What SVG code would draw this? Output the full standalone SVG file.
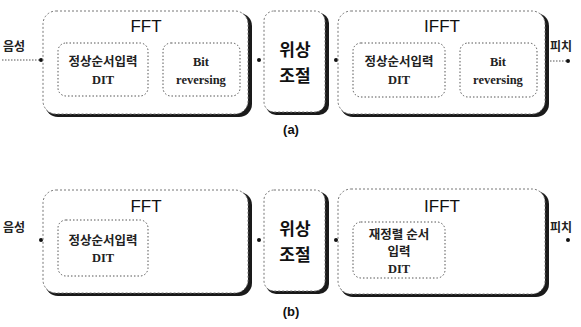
<svg xmlns="http://www.w3.org/2000/svg" width="581" height="327" viewBox="0 0 581 327">
<style>
.shadow{fill:#1a1a1a;}
.outer{fill:#fff;stroke:#777;stroke-width:1;stroke-dasharray:2,2;}
.inner{fill:none;stroke:#555;stroke-width:1;stroke-dasharray:1.5,2;}
.title{font-family:"Liberation Sans",Arial,sans-serif;font-size:17px;fill:#111;text-anchor:middle;}
.phase{font-family:"Noto Sans CJK KR","Noto Sans",sans-serif;font-size:17px;font-weight:bold;fill:#111;text-anchor:middle;}
.lbl{font-family:"Liberation Serif","Noto Sans CJK KR",serif;font-size:12.5px;font-weight:bold;fill:#222;text-anchor:middle;}
.side{font-family:"Noto Sans CJK KR",sans-serif;font-size:12px;font-weight:bold;fill:#222;}
.cap{font-family:"Liberation Sans",Arial,sans-serif;font-size:13px;font-weight:bold;fill:#111;text-anchor:middle;}
.conn{stroke:#555;stroke-width:1;stroke-dasharray:1.5,1.5;fill:none;}
.dot{fill:#111;}
</style>

<g id="connectors">
<line class="conn" x1="2" y1="60" x2="40" y2="60"/>
<circle class="dot" cx="41" cy="60" r="2"/>
<circle class="dot" cx="259" cy="60" r="2"/>
<circle class="dot" cx="336" cy="60" r="2"/>
<line class="conn" x1="550" y1="61" x2="567" y2="61"/>
<circle class="dot" cx="568" cy="61" r="2"/>
<circle class="dot" cx="41" cy="240" r="2"/>
<circle class="dot" cx="259" cy="240" r="2"/>
<circle class="dot" cx="336" cy="240" r="2"/>
<circle class="dot" cx="568" cy="240" r="2"/>
</g>

<g id="label-in-a"><text class="side" x="3" y="51">음성</text></g>
<g id="label-out-a"><text class="side" x="550" y="51">피치</text></g>
<g id="label-in-b"><text class="side" x="3" y="232">음성</text></g>
<g id="label-out-b"><text class="side" x="550" y="232">피치</text></g>

<g id="fft-a">
<rect class="shadow" x="45" y="13" width="207" height="104" rx="13"/>
<rect class="outer" x="43" y="11" width="205" height="103" rx="13"/>
<text class="title" x="146" y="32">FFT</text>
</g>
<g id="fft-a-dit">
<rect class="inner" x="58" y="43" width="90" height="53" rx="8"/>
<text class="lbl" x="103" y="66">정상순서입력</text>
<text class="lbl" x="103" y="84">DIT</text>
</g>
<g id="fft-a-bit">
<rect class="inner" x="163" y="43" width="77" height="53" rx="8"/>
<text class="lbl" x="201" y="66">Bit</text>
<text class="lbl" x="201" y="84">reversing</text>
</g>

<g id="phase-a">
<rect class="shadow" x="266" y="13" width="63" height="102" rx="10"/>
<rect class="outer" x="264" y="11" width="61" height="101" rx="10"/>
<text class="phase" x="295" y="56">위상</text>
<text class="phase" x="295" y="82">조절</text>
</g>

<g id="ifft-a">
<rect class="shadow" x="340" y="13" width="209" height="104" rx="13"/>
<rect class="outer" x="338" y="11" width="207" height="103" rx="13"/>
<text class="title" x="442" y="32">IFFT</text>
</g>
<g id="ifft-a-dit">
<rect class="inner" x="353" y="43" width="92" height="54" rx="8"/>
<text class="lbl" x="399" y="66">정상순서입력</text>
<text class="lbl" x="399" y="84">DIT</text>
</g>
<g id="ifft-a-bit">
<rect class="inner" x="460" y="43" width="77" height="54" rx="8"/>
<text class="lbl" x="498" y="66">Bit</text>
<text class="lbl" x="498" y="84">reversing</text>
</g>

<g id="caption-a"><text class="cap" x="291" y="134">(a)</text></g>

<g id="fft-b">
<rect class="shadow" x="45" y="192" width="207" height="104" rx="13"/>
<rect class="outer" x="43" y="190" width="205" height="103" rx="13"/>
<text class="title" x="146" y="212">FFT</text>
</g>
<g id="fft-b-dit">
<rect class="inner" x="58" y="220" width="90" height="56" rx="8"/>
<text class="lbl" x="103" y="245">정상순서입력</text>
<text class="lbl" x="103" y="262">DIT</text>
</g>

<g id="phase-b">
<rect class="shadow" x="266" y="192" width="63" height="102" rx="10"/>
<rect class="outer" x="264" y="190" width="61" height="101" rx="10"/>
<text class="phase" x="295" y="235">위상</text>
<text class="phase" x="295" y="261">조절</text>
</g>

<g id="ifft-b">
<rect class="shadow" x="340" y="191" width="209" height="106" rx="13"/>
<rect class="outer" x="338" y="189" width="207" height="105" rx="13"/>
<text class="title" x="442" y="212">IFFT</text>
</g>
<g id="ifft-b-dit">
<rect class="inner" x="353" y="222" width="92" height="56" rx="8"/>
<text class="lbl" x="399" y="239">재정렬 순서</text>
<text class="lbl" x="399" y="256">입력</text>
<text class="lbl" x="399" y="273">DIT</text>
</g>

<g id="caption-b"><text class="cap" x="291" y="316">(b)</text></g>
</svg>
